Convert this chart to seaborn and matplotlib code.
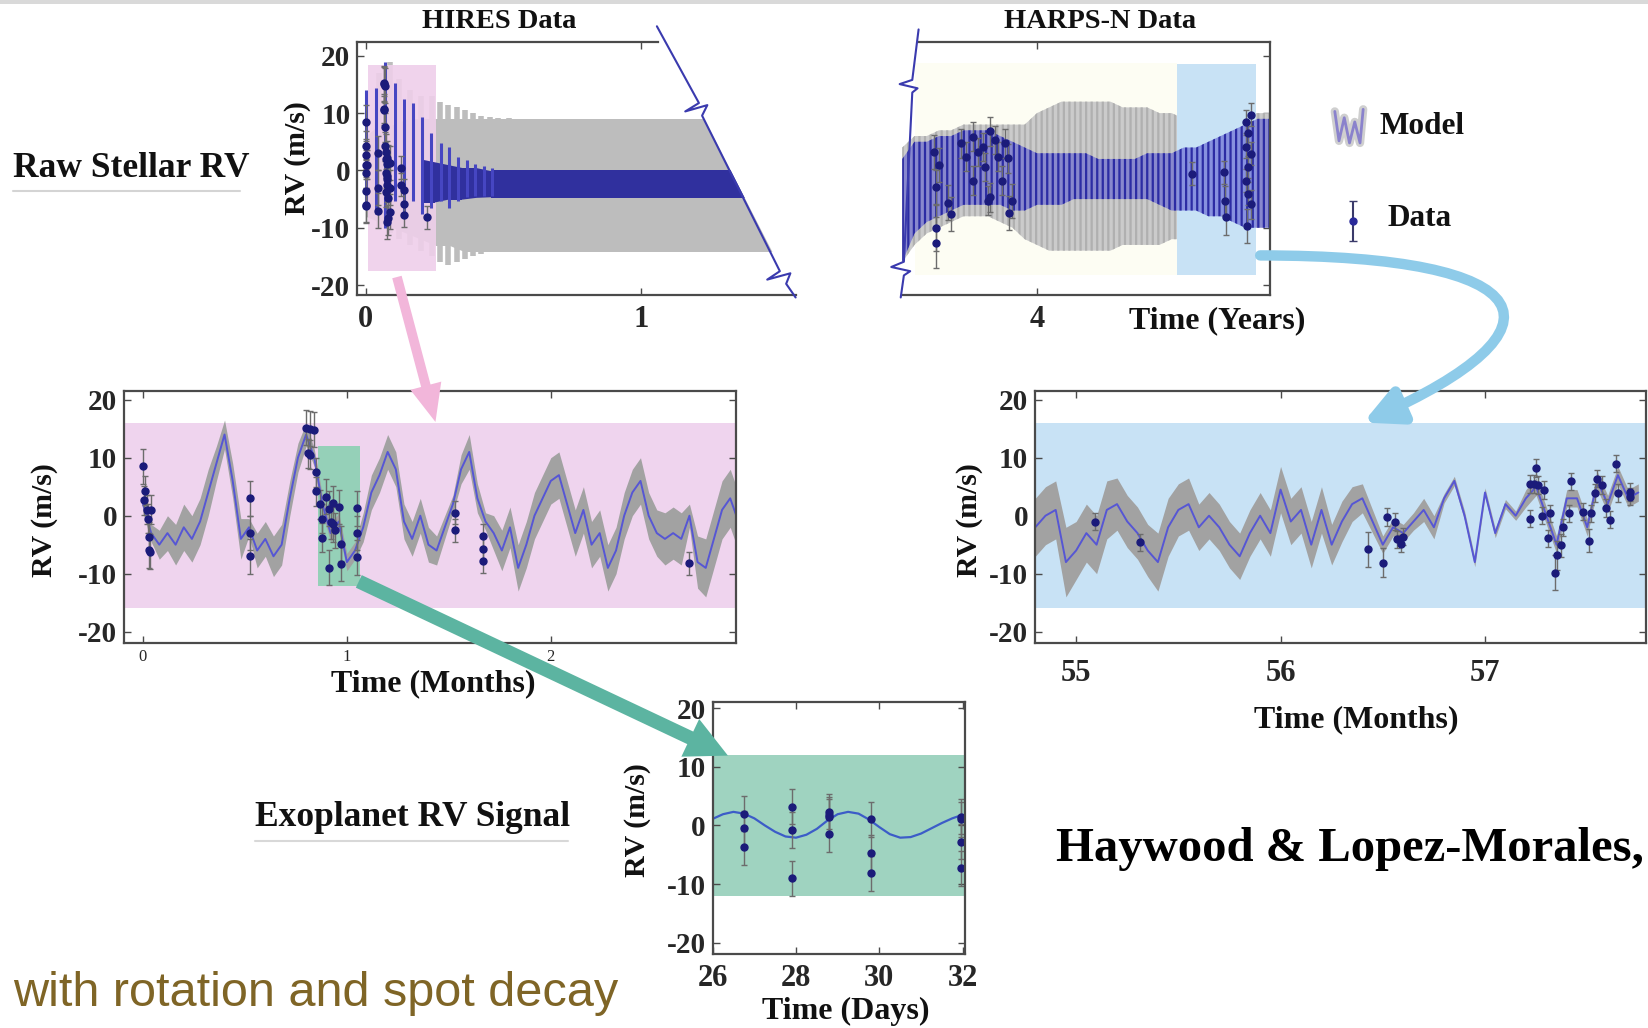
import numpy as np
import matplotlib
matplotlib.use('Agg')
import matplotlib.pyplot as plt
import seaborn as sns
from matplotlib.patches import Rectangle, Polygon, FancyArrowPatch
from matplotlib.path import Path

# ---------------- data ----------------
# HIRES panel (years)
hi_band_t = [0.00, 0.05, 0.10, 0.15, 0.20, 0.25, 0.30, 0.35, 0.40, 0.45, 0.50, 0.60, 1.70]
hi_gray_top = [6, 8, 8, 9, 9, 9, 9, 9, 9, 9, 9, 9, 9]
hi_gray_bot = [-8, -9, -10, -11, -12, -13, -13, -14, -14, -14, -14, -14, -14]
hi_gspike_t = [0.05, 0.09, 0.12, 0.16, 0.20, 0.24, 0.27, 0.30, 0.33, 0.36, 0.39, 0.42, 0.45, 0.48, 0.52]
hi_gspike_top = [17, 19, 16, 14, 13, 13, 12, 11.5, 11, 10.5, 10, 9.5, 9.3, 9.2, 9.1]
hi_gspike_bot = [-10, -11, -12, -13, -14, -15, -16, -16.5, -16, -15.5, -15, -14.5, -14.2, -14.1, -14.1]
hi_blue_t = [0.20, 0.25, 0.30, 0.35, 0.40, 0.45, 0.50, 1.70]
hi_blue_top = [2, 1.5, 1, 0.5, 0.5, 0, 0, 0]
hi_blue_bot = [-5.5, -5.5, -5, -5, -4.7, -4.6, -4.6, -4.6]
hi_bspike_t = [0.003, 0.038, 0.072, 0.105, 0.138, 0.172, 0.206, 0.238, 0.272, 0.304, 0.335, 0.366, 0.398, 0.43, 0.46]
hi_bspike_top = [14, 14.4, 19, 15.3, 12.4, 11.8, 9.4, 6.5, 4.7, 4.1, 2.4, 1.8, 1.2, 0.8, 0.5]
hi_bspike_bot = [-6.5, -7.6, -10, -5.3, -7.6, -5.3, -7.6, -6.5, -5.3, -6.5, -5.3, -4.7, -4.4, -4.4, -4.4]

# HARPS-N panel (years)
hn_grid = [3.45, 3.50, 3.55, 3.60, 3.65, 3.70, 3.75, 3.80, 3.85, 3.90, 3.95, 4.00, 4.05, 4.10, 4.15, 4.20,
           4.25, 4.30, 4.35, 4.40, 4.45, 4.50, 4.55, 4.60, 4.65, 4.70, 4.75, 4.80, 4.85, 4.90, 4.95]
hn_gray_top = [4, 6, 6, 7, 7, 8, 8, 8, 8, 8, 8, 10, 11, 12, 12, 12, 12, 12, 11, 11, 11, 10, 10, 9, 9, 8, 8, 9, 10, 10, 10]
hn_gray_bot = [-16, -13, -11, -10, -9, -8, -8, -8, -9, -10, -12, -13, -14, -14, -14, -14, -14, -14, -13, -13,
               -13, -13, -12, -12, -12, -12, -12, -11, -10, -10, -10]
hn_blue_top = [2, 5, 5, 6, 6, 7, 7, 7, 6, 5, 4, 3, 3, 3, 3, 3, 2, 2, 2, 2, 3, 3, 3, 4, 4, 5, 6, 7, 8, 9, 9]
hn_blue_bot = [-16, -11, -9, -8, -7, -6, -6, -6, -6, -7, -7, -6, -6, -6, -5, -5, -5, -5, -5, -5, -5, -6, -7,
               -7, -7, -8, -8, -9, -10, -10, -10]
hn_t = [3.578, 3.598, 3.588, 3.638, 3.649, 3.588, 3.588, 3.689, 3.709, 3.739, 3.759, 3.779, 3.789, 3.809,
        3.829, 3.839, 3.859, 3.869, 3.880, 3.809, 3.799, 3.739, 3.886, 3.900, 4.633, 4.763, 4.769, 4.773,
        4.853, 4.873, 4.863, 4.853, 4.873, 4.863, 4.853, 4.863, 4.873, 4.858]
hn_rv = [3.2, 0.9, -2.9, -5.6, -7.6, -10.0, -12.6, 4.7, 2.4, 5.9, 3.2, 4.1, 0.6, 6.8, 5.3, 2.4, -1.8, 4.7,
         2.1, -4.7, -5.3, -1.8, -7.4, -5.3, -0.6, -0.3, -5.3, -8.2, 8.5, 9.7, 6.5, 4.1, 2.9, 0.6, -1.8, -4.1,
         -5.9, -9.7]
hn_err = [3, 3, 3, 3, 3, 4, 4.5, 2.5, 2.5, 2.5, 2.5, 2.5, 2.5, 2.5, 2.5, 2.5, 2.5, 2.5, 2.5, 2.5, 2.5, 2.5,
          3, 3, 2, 2, 2.5, 3, 2, 2, 2, 2, 2, 2, 2, 2, 2.5, 3]

# first three months (months)
ml_grid = [0.00, 0.04, 0.08, 0.12, 0.16, 0.20, 0.24, 0.28, 0.32, 0.36, 0.40, 0.44, 0.48, 0.52, 0.56, 0.60,
           0.64, 0.68, 0.72, 0.76, 0.80, 0.84, 0.88, 0.92, 0.96, 1.00, 1.04, 1.08, 1.12, 1.16, 1.20, 1.24,
           1.28, 1.32, 1.36, 1.40, 1.44, 1.48, 1.52, 1.56, 1.60, 1.64, 1.68, 1.72, 1.76, 1.80, 1.84, 1.88,
           1.92, 1.96, 2.00, 2.04, 2.08, 2.12, 2.16, 2.20, 2.24, 2.28, 2.32, 2.36, 2.40, 2.44, 2.48, 2.52,
           2.56, 2.60, 2.64, 2.68, 2.72, 2.76, 2.80, 2.84, 2.88, 2.92]
ml_model = [2, -3, -5, -3, -5, -2, -4, -1, 4, 9, 14, 6, -4, -2, -6, -4, -7, -5, 3, 10,
            14, 10, 2, -3, -1, -8, -6, -2, 4, 7, 11, 8, -1, -4, 0, -5, -6, -2, 2, 8,
            11, 3, -1, -3, -6, -2, -9, -5, 0, 3, 6, 7, 2, -3, 1, -5, -3, -9, -6, 0,
            4, 6, 0, -3, -4, -3, -4, 0, -8, -9, -4, 1, 3, -1]
ml_band = [1.5, 1.5, 2.5, 3, 3.5, 4, 4, 4, 4, 3, 2.5, 3, 3.5, 1.5, 3, 3, 3.5, 3.5, 3, 2.5,
           2, 1.5, 1.5, 1.5, 1.5, 1.5, 1.5, 2.5, 3, 3, 3, 3, 3, 3, 3, 3, 2.5, 2, 1.5, 2.5,
           3, 2.5, 1.5, 3, 3.5, 3.5, 4, 4, 4, 4, 4, 4, 4, 4, 4, 4, 4, 4, 4, 4,
           4, 4, 4, 4, 4.5, 4.5, 4.5, 2, 4.5, 5, 5, 5, 5, 5]
ml_t = [0.00, 0.005, 0.01, 0.02, 0.025, 0.03, 0.03, 0.035, 0.04, 0.525, 0.525, 0.525, 0.80, 0.82, 0.84,
        0.81, 0.82, 0.85, 0.85, 0.87, 0.88, 0.88, 0.90, 0.91, 0.92, 0.93, 0.93, 0.94, 0.91, 0.96, 0.97,
        0.97, 1.05, 1.05, 1.05, 1.53, 1.53, 1.67, 1.67, 1.67, 2.68]
ml_rv = [8.5, 2.7, 4.3, 1.0, -0.5, -3.6, -6.0, -6.2, 1.0, 3.0, -3.0, -7.0, 15.2, 15.0, 14.8, 10.8, 10.5,
         7.5, 4.2, 2.0, -0.5, -3.8, 3.3, 1.2, -1.0, 2.2, -1.5, -2.5, -9.0, 1.5, -4.8, -8.3, 1.3, -3.0,
         -7.2, 0.5, -2.5, -3.5, -5.8, -7.8, -8.2]
ml_err = [3, 2.5, 2.5, 2.5, 2.5, 2.5, 3, 3, 2.5, 3, 3, 3, 3, 3, 3, 2.5, 2.5, 2.5, 2.5, 2.5, 2.5,
          2.5, 3, 3, 3, 3, 3, 3, 3, 3, 3, 3, 3, 3, 3, 2, 2, 2, 2, 2, 2]

# months 55-57 (months)
mr_grid = [54.80, 54.85, 54.90, 54.95, 55.00, 55.05, 55.10, 55.15, 55.20, 55.25, 55.30, 55.35, 55.40,
           55.45, 55.50, 55.55, 55.60, 55.65, 55.70, 55.75, 55.80, 55.85, 55.90, 55.95, 56.00, 56.05,
           56.10, 56.15, 56.20, 56.25, 56.30, 56.35, 56.40, 56.45, 56.50, 56.55, 56.60, 56.65, 56.70,
           56.75, 56.80, 56.85, 56.90, 56.95, 57.00, 57.05, 57.10, 57.15, 57.20, 57.25, 57.30, 57.35,
           57.40, 57.45, 57.50, 57.55, 57.60, 57.65, 57.70, 57.75]
mr_model = [-2, 0, 1, -8, -6, -3, -5, 1, 2, -1, -3, -6, -8, -2, 1, 2, -2, 0, -2, -5,
            -7, -3, 0, -3, 4.5, -1, 1, -5, 1, -5, -1, 2, 3, -1, -5, -2, -3, -1, 1, -2,
            3, 6, 0, -8, 4, -3, 2, 0, 3, 5, 0, -5, 3, 3, -2, 6, 2, 7, 3, 4]
mr_band = [5, 5, 5, 6, 5, 5, 5, 5, 4.5, 4.5, 4.5, 4.5, 5, 5, 4.5, 4.5, 4, 4, 4, 4,
           4, 4, 4, 4, 4, 4, 4, 4, 4, 3.5, 3.5, 3, 2.5, 2, 1.5, 1.5, 1.5, 1.5, 2, 2,
           0.8, 0.8, 0.8, 0.8, 0.8, 0.8, 0.8, 0.8, 1.5, 1.5, 1.5, 1.5, 1.5, 1.5, 1.5, 1.5, 1.5, 1.5, 1.5, 1.5]
mr_t = [55.09, 55.31, 56.43, 56.50, 56.52, 56.56, 56.57, 56.59, 56.60, 57.22, 57.22, 57.24, 57.25, 57.26,
        57.29, 57.28, 57.31, 57.32, 57.34, 57.35, 57.37, 57.38, 57.41, 57.42, 57.48, 57.51, 57.52, 57.54,
        57.55, 57.57, 57.59, 57.61, 57.64, 57.65, 57.71, 57.71]
mr_rv = [-1.0, -4.6, -5.8, -8.1, -0.2, -1.0, -4.1, -4.8, -3.6, -0.5, 5.5, 5.5, 8.2, 5.3, 4.4, 0.0, -3.9,
         0.4, -9.8, -6.8, -5.1, -2.0, 0.4, 5.9, 0.7, -4.3, 0.4, 3.9, 6.4, 5.3, 1.3, -0.7, 9.0, 3.9, 3.3, 4.1]
mr_err = [1.5, 1.5, 3, 2.5, 1.5, 1.5, 1.5, 1.5, 1.5, 1.5, 1.5, 1.5, 1.5, 1.5, 1.5, 1.5, 1.5, 1.5, 3, 2.5,
          2, 1.5, 1.5, 1.5, 1.5, 2, 1.5, 1.5, 1.5, 1.5, 1.5, 1.5, 1.5, 1.5, 1.5, 1.5]

# exoplanet signal (days)
bd_grid = [26.00, 26.25, 26.50, 26.75, 27.00, 27.25, 27.50, 27.75, 28.00, 28.25, 28.50, 28.75, 29.00,
           29.25, 29.50, 29.75, 30.00, 30.25, 30.50, 30.75, 31.00, 31.25, 31.50, 31.75, 32.00]
bd_model = [1.1, 1.9, 2.3, 2.0, 1.2, 0.0, -1.1, -1.9, -2.1, -1.6, -0.6, 0.8, 1.9, 2.3, 2.0, 1.0, -0.3,
            -1.5, -2.1, -2.0, -1.4, -0.5, 0.4, 1.2, 1.8]
bd_t = [26.75, 26.75, 26.75, 27.9, 27.9, 27.9, 28.8, 28.8, 28.8, 28.8, 29.8, 29.8, 29.8, 31.95, 31.95,
        31.95, 31.95]
bd_rv = [2.0, -0.5, -3.7, 3.2, -0.8, -9.0, 2.3, 1.8, 1.5, -1.5, 1.0, -4.7, -8.2, 1.5, 1.0, -2.8, -7.3]
bd_err = [3, 3, 3, 3, 3, 3, 3, 3, 3, 3, 3, 3, 3, 3, 3, 3, 3]

yticks = [-20, -10, 0, 10, 20]

# ---------------- style ----------------
sns.set_style('white')
plt.rcParams['font.family'] = ['Liberation Serif', 'DejaVu Serif']
plt.rcParams['font.weight'] = 'bold'
plt.rcParams['axes.unicode_minus'] = False
plt.rcParams['hatch.linewidth'] = 1.6

W, H = 1568, 978
fig = plt.figure(figsize=(16.48, 10.28), dpi=100)
fig.patch.set_facecolor('white')


def rect(l, t, r, b):
    return [l / W, 1 - b / H, (r - l) / W, (b - t) / H]


SP = '#4a4a4a'
GRAY = '#a2a2a2'
LINE = '#5656d4'
NAVY = '#1b1b7a'
PINK = '#efd4ee'
LBLUE = '#c8e2f5'
GREEN = '#9fd3c0'
TICK = 21


def style(ax, left=True, right=True, top=True, size=TICK):
    for s in ax.spines.values():
        s.set_color(SP)
        s.set_linewidth(1.6)
        s.set_zorder(6)
    ax.tick_params(direction='in', length=5, width=1, color=SP, top=top, right=right, left=left,
                   bottom=True, labelsize=size, pad=5)
    ax.set_xlabel('')
    ax.set_ylabel('')


def data(ax, t, rv, err):
    ax.errorbar(t, rv, yerr=err, fmt='o', color=NAVY, ms=5, ecolor='#6c6c6c', elinewidth=1,
                capsize=2, capthick=1, zorder=5)


# overlay in reference pixel coordinates
ov = fig.add_axes([0, 0, 1, 1], zorder=10)
ov.set_xlim(0, W)
ov.set_ylim(H, 0)
ov.axis('off')
ov.patch.set_alpha(0)

# ---------- HIRES ----------
ax1 = fig.add_axes(rect(340, 40, 757, 281))
ax1.set_xlim(-0.03, 1.56)
ax1.set_ylim(-21.8, 22.4)
clip = Polygon([(300, -100), (561, -100), (817, 400), (300, 400)], closed=True, transform=ov.transData)
arts = []
arts.append(ax1.fill_between(hi_band_t, hi_gray_bot, hi_gray_top, color='#bdbdbd', lw=0, zorder=1))
arts.append(ax1.vlines(hi_gspike_t, hi_gspike_bot, hi_gspike_top, color='#bdbdbd', lw=4, zorder=1))
ax1.add_patch(Rectangle((0.008, -17.6), 0.248, 36.0, color='#efcfea', alpha=0.9, lw=0, zorder=1.5))
arts.append(ax1.fill_between(hi_blue_t, hi_blue_bot, hi_blue_top, color='#30309e', lw=0, zorder=2))
arts.append(ax1.vlines(hi_bspike_t, hi_bspike_bot, hi_bspike_top, color='#4646c2', lw=2.2, zorder=2))
for a in arts:
    a.set_clip_path(clip)
data(ax1, np.array(ml_t) / 12.0, ml_rv, ml_err)
ax1.set_xticks([0, 1])
ax1.set_yticks(yticks)
style(ax1, right=False)
ax1.tick_params(axis='x', pad=7, labelsize=22)
ax1.spines['right'].set_visible(False)
ax1.spines['top'].set_bounds(-0.03, 1.06)

# ---------- HARPS-N ----------
ax2 = fig.add_axes(rect(858, 40, 1208, 281))
ax2.set_xlim(3.448, 4.95)
ax2.set_ylim(-21.8, 22.4)
ax2.add_patch(Rectangle((3.50, -18.2), 1.07, 37.0, color='#fdfdf3', lw=0, zorder=0.5))
ax2.fill_between(hn_grid, hn_gray_bot, hn_gray_top, facecolor='#cbcbcb', edgecolor='#b0b0b0',
                 hatch='|||', lw=0, zorder=1)
ax2.add_patch(Rectangle((4.572, -18.2), 0.322, 36.7, color=LBLUE, lw=0, zorder=1.5))
ax2.fill_between(hn_grid, hn_blue_bot, hn_blue_top, facecolor=(0.36, 0.36, 0.82, 0.6),
                 edgecolor='#2c2ca4', hatch='|||', lw=0, zorder=2)
data(ax2, hn_t, hn_rv, hn_err)
ax2.set_xticks([4])
ax2.set_yticks(yticks)
ax2.set_yticklabels([])
style(ax2, left=False)
ax2.tick_params(axis='x', pad=7, labelsize=22)
ax2.spines['left'].set_visible(False)
ax2.spines['top'].set_bounds(3.518, 4.95)

# ---------- first months ----------
ax3 = fig.add_axes(rect(118, 372, 700, 612))
ax3.set_xlim(-0.093, 2.907)
ax3.set_ylim(-22, 21.5)
ax3.axhspan(-16, 16, color=PINK, lw=0, zorder=0)
ax3.add_patch(Rectangle((0.857, -12.2), 0.208, 24.2, color='#95d0b8', lw=0, zorder=0.5))
m3 = np.array(ml_model, dtype=float)
e3 = np.array(ml_band, dtype=float)
ax3.fill_between(ml_grid, m3 - e3, m3 + e3, color=GRAY, lw=0, zorder=1)
sns.lineplot(x=ml_grid, y=ml_model, ax=ax3, color=LINE, lw=1.4, zorder=2)
data(ax3, ml_t, ml_rv, ml_err)
ax3.set_xticks([0, 1, 2])
ax3.set_yticks(yticks)
style(ax3)
ax3.tick_params(axis='x', labelsize=12, pad=4)
for lb in ax3.get_xticklabels():
    lb.set_fontweight('normal')

# ---------- months 55-57 ----------
ax4 = fig.add_axes(rect(985, 372, 1566, 612))
ax4.set_xlim(54.80, 57.787)
ax4.set_ylim(-22, 21.5)
ax4.axhspan(-16, 16, color=LBLUE, lw=0, zorder=0)
m4 = np.array(mr_model, dtype=float)
e4 = np.array(mr_band, dtype=float)
ax4.fill_between(mr_grid, m4 - e4, m4 + e4, color=GRAY, lw=0, zorder=1)
sns.lineplot(x=mr_grid, y=mr_model, ax=ax4, color=LINE, lw=1.4, zorder=2)
data(ax4, mr_t, mr_rv, mr_err)
ax4.set_xticks([55, 56, 57])
ax4.set_yticks(yticks)
style(ax4)
ax4.tick_params(axis='x', pad=11, labelsize=22)

# ---------- exoplanet signal ----------
ax5 = fig.add_axes(rect(678, 668, 918, 908))
ax5.set_xlim(26, 32.05)
ax5.set_ylim(-22, 21)
ax5.axhspan(-12, 12, color=GREEN, lw=0, zorder=0)
sns.lineplot(x=bd_grid, y=bd_model, ax=ax5, color='#3c5cc8', lw=1.6, zorder=2)
data(ax5, bd_t, bd_rv, bd_err)
ax5.set_xticks([26, 28, 30, 32])
ax5.set_yticks(yticks)
style(ax5)
ax5.tick_params(axis='x', pad=7, labelsize=22)

# ---------------- overlay decorations ----------------
ov.add_patch(Rectangle((0, 0), W, 4, color='#d9d9d9', lw=0))

BRK = '#3a3aae'
ov.plot([625, 665, 652, 673, 668, 742, 730, 752, 748, 757],
        [25, 98, 106, 100, 110, 258, 266, 260, 270, 283], color=BRK, lw=1.5)
ov.plot([874, 868, 856, 873, 868, 860, 848, 866, 860, 857],
        [28, 76, 80, 84, 88, 249, 254, 258, 262, 283], color=BRK, lw=1.5)

txt = dict(ha='center', va='center', color='#111111', fontweight='bold')
ov.text(475, 20, 'HIRES Data', fontsize=20.5, **txt)
ov.text(1047, 20, 'HARPS-N Data', fontsize=20.5, **txt)
ov.text(1158, 305, 'Time (Years)', fontsize=23, **txt)
ov.text(412, 650, 'Time (Months)', fontsize=23, **txt)
ov.text(1290, 685, 'Time (Months)', fontsize=23, **txt)
ov.text(805, 962, 'Time (Days)', fontsize=23, **txt)
for (x, y) in [(283, 150), (42, 495), (922, 495), (607, 780)]:
    ov.text(x, y, 'RV (m/s)', rotation=90, fontsize=21.5, **txt)

ov.text(12, 160, 'Raw Stellar RV', ha='left', va='center', fontsize=25.5, fontweight='bold', color='#111111')
ov.plot([12, 228], [182, 182], color='#d4d4d4', lw=1.5)
ov.text(243, 778, 'Exoplanet RV Signal', ha='left', va='center', fontsize=25.5, fontweight='bold',
        color='#111111')
ov.plot([243, 540], [800, 800], color='#d8d8d8', lw=1.5)
ov.text(1005, 808, 'Haywood & Lopez-Morales,', ha='left', va='center', fontsize=35,
        fontweight='bold', color='#000000')
ov.text(12, 945, 'with rotation and spot decay', ha='left', va='center', fontsize=35,
        family=['Liberation Sans', 'DejaVu Sans'], fontweight='normal', color='#7f6526')

# legend
ov.plot([1270, 1274, 1279, 1284, 1289, 1294, 1297], [106, 134, 112, 136, 116, 136, 104],
        color='#cfcfcf', lw=6, solid_joinstyle='round')
ov.plot([1270, 1274, 1279, 1284, 1289, 1294, 1297], [106, 134, 112, 136, 116, 136, 104],
        color='#8a82cc', lw=2)
ov.text(1313, 120, 'Model', ha='left', va='center', fontsize=22.5, fontweight='bold', color='#111111')
ov.errorbar([1287], [210], yerr=[[19], [19]], fmt='o', ms=5, color='#2a2a9a', ecolor='#3a3a6a',
            elinewidth=1.5, capsize=3)
ov.text(1320, 208, 'Data', ha='left', va='center', fontsize=22.5, fontweight='bold', color='#111111')

# arrows
ov.add_patch(FancyArrowPatch((377, 261), (415, 404), arrowstyle='simple,head_width=23,head_length=27,tail_width=7',
                             mutation_scale=1, color='#f2b6da', lw=0))
ov.add_patch(FancyArrowPatch((339, 552), (695, 720), arrowstyle='simple,head_width=30,head_length=30,tail_width=10',
                             mutation_scale=1, color='#5cb4a1', lw=0))
bpath = Path([(1199, 243), (1470, 243), (1500, 312), (1297, 402)],
             [Path.MOVETO, Path.CURVE4, Path.CURVE4, Path.CURVE4])
ov.add_patch(FancyArrowPatch(path=bpath, arrowstyle='-|>,head_length=22,head_width=11',
                             mutation_scale=1, color='#8ecbe9', lw=7.5))

fig.savefig('out.png', dpi=100)
